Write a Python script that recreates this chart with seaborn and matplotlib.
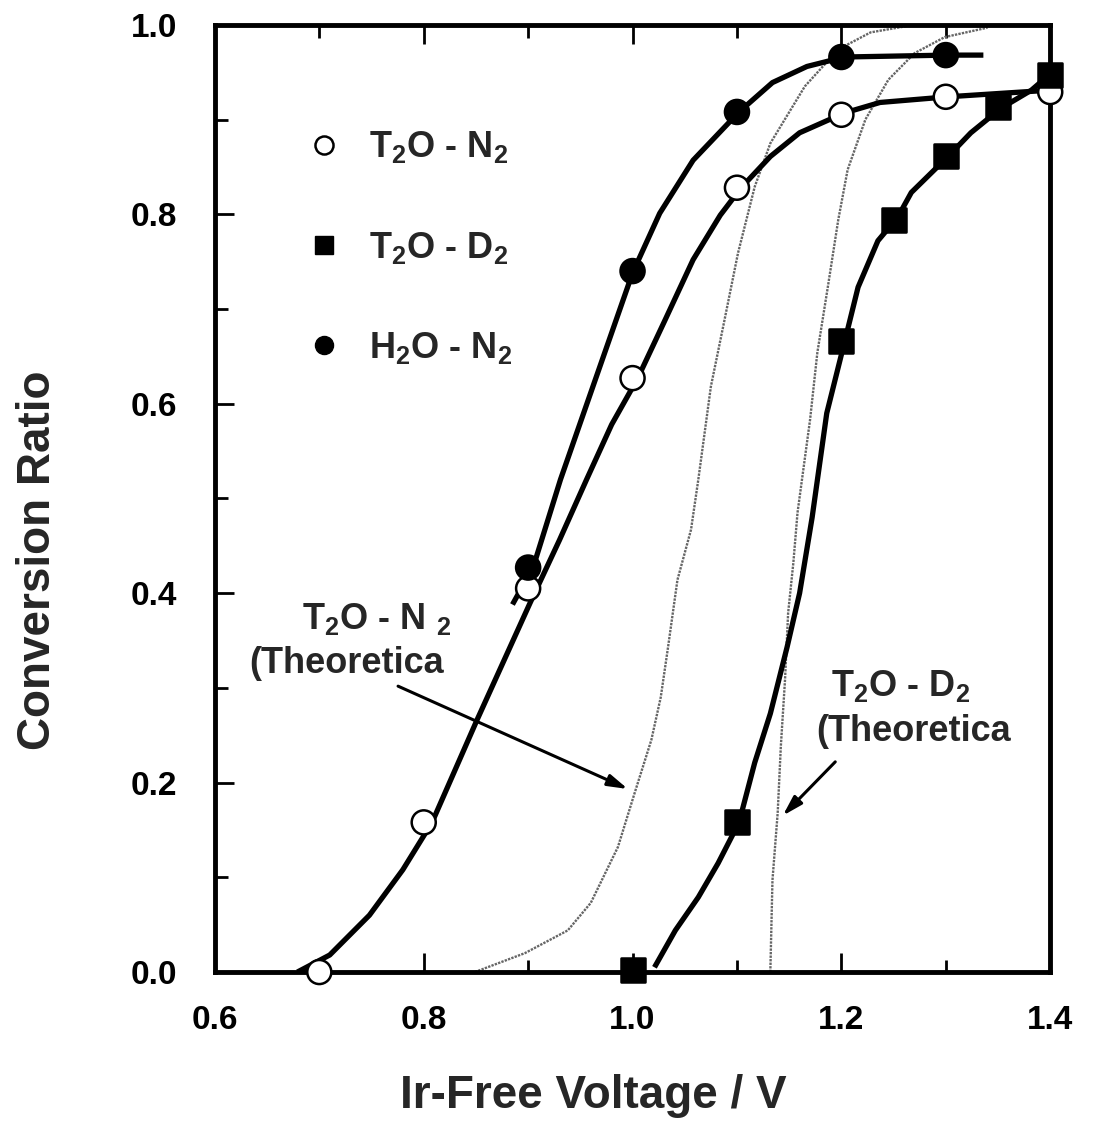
import pandas as pd
import matplotlib.pyplot as plt
import seaborn as sbn
from matplotlib.lines import Line2D
from matplotlib.ticker import MultipleLocator

sbn.set_style('ticks')
plt.rcParams['font.family'] = ['Liberation Sans', 'DejaVu Sans']
plt.rcParams['mathtext.default'] = 'regular'

# measured points
t2o_n2_x = [0.70, 0.80, 0.90, 1.00, 1.10, 1.20, 1.30, 1.40]
t2o_n2_y = [0.0, 0.158, 0.405, 0.627, 0.828, 0.905, 0.924, 0.929]
t2o_d2_x = [1.00, 1.10, 1.20, 1.25, 1.30, 1.35, 1.40]
t2o_d2_y = [0.002, 0.158, 0.666, 0.794, 0.861, 0.913, 0.947]
h2o_n2_x = [0.90, 1.00, 1.10, 1.20, 1.30]
h2o_n2_y = [0.427, 0.740, 0.908, 0.966, 0.968]

# hand-drawn fit curves (traced)
fit_t2o_n2_x = [0.679, 0.710, 0.748, 0.780, 0.808, 0.851, 0.902, 0.930, 0.956, 0.980,
                1.005, 1.031, 1.058, 1.084, 1.104, 1.132, 1.160, 1.203, 1.237, 1.302, 1.400]
fit_t2o_n2_y = [0.0, 0.018, 0.060, 0.108, 0.158, 0.266, 0.390, 0.456, 0.520, 0.578,
                0.627, 0.688, 0.752, 0.799, 0.828, 0.861, 0.886, 0.907, 0.918, 0.924, 0.931]
fit_h2o_n2_x = [0.885, 0.905, 0.931, 0.962, 1.000, 1.026, 1.058, 1.102, 1.134, 1.167,
                1.203, 1.302, 1.336]
fit_h2o_n2_y = [0.388, 0.428, 0.520, 0.618, 0.738, 0.801, 0.857, 0.908, 0.939, 0.956,
                0.966, 0.968, 0.968]
fit_t2o_d2_x = [1.021, 1.041, 1.063, 1.082, 1.102, 1.117, 1.132, 1.148, 1.160, 1.172,
                1.186, 1.203, 1.216, 1.235, 1.254, 1.267, 1.304, 1.324, 1.353, 1.382, 1.401]
fit_t2o_d2_y = [0.005, 0.044, 0.079, 0.115, 0.158, 0.221, 0.273, 0.343, 0.400, 0.480,
                0.590, 0.665, 0.723, 0.772, 0.797, 0.823, 0.863, 0.886, 0.912, 0.931, 0.949]

# theoretical curves (traced)
th_n2_x = [0.849, 0.897, 0.938, 0.960, 0.986, 1.002, 1.018, 1.027, 1.034, 1.043, 1.056,
           1.063, 1.075, 1.088, 1.101, 1.117, 1.132, 1.165, 1.197, 1.228, 1.270]
th_n2_y = [0.0, 0.020, 0.044, 0.073, 0.132, 0.189, 0.245, 0.290, 0.343, 0.414, 0.467,
           0.520, 0.618, 0.688, 0.759, 0.829, 0.875, 0.935, 0.974, 0.992, 1.0]
th_d2_x = [1.132, 1.132, 1.134, 1.139, 1.142, 1.146, 1.149, 1.154, 1.158, 1.170, 1.177,
           1.187, 1.197, 1.206, 1.223, 1.245, 1.270, 1.299, 1.340]
th_d2_y = [0.0, 0.002, 0.097, 0.168, 0.238, 0.308, 0.379, 0.432, 0.485, 0.583, 0.654,
           0.723, 0.794, 0.847, 0.900, 0.942, 0.970, 0.987, 0.997]

series = ['T2O-N2', 'T2O-D2', 'H2O-N2']
pts = pd.DataFrame({
    'V': t2o_n2_x + t2o_d2_x + h2o_n2_x,
    'ratio': t2o_n2_y + t2o_d2_y + h2o_n2_y,
    'series': [series[0]] * len(t2o_n2_x) + [series[1]] * len(t2o_d2_x)
              + [series[2]] * len(h2o_n2_x),
})

fig = plt.figure(figsize=(11.02, 11.27), dpi=100)
ax = fig.add_axes([0.195, 0.1375, 0.758, 0.8405])

# theoretical (thin grey dotted)
for xs, ys in [(th_n2_x, th_n2_y), (th_d2_x, th_d2_y)]:
    sbn.lineplot(x=xs, y=ys, sort=False, estimator=None, ax=ax,
                 color='0.4', linewidth=1.7, linestyle=(0, (1, 0.5)))

# experimental fits (thick black)
for xs, ys in [(fit_t2o_n2_x, fit_t2o_n2_y), (fit_h2o_n2_x, fit_h2o_n2_y),
               (fit_t2o_d2_x, fit_t2o_d2_y)]:
    sbn.lineplot(x=xs, y=ys, sort=False, estimator=None, ax=ax,
                 color='black', linewidth=3.8, solid_capstyle='butt',
                 solid_joinstyle='round')

sbn.scatterplot(data=pts, x='V', y='ratio', hue='series', style='series',
                palette={'T2O-N2': 'white', 'T2O-D2': 'black', 'H2O-N2': 'black'},
                markers={'T2O-N2': 'o', 'T2O-D2': 's', 'H2O-N2': 'o'},
                s=300, edgecolor='black', linewidth=1.8, legend=False,
                clip_on=False, zorder=5, ax=ax)

ax.set_xlim(0.6, 1.4)
ax.set_ylim(0.0, 1.0)
ax.xaxis.set_minor_locator(MultipleLocator(0.1))
ax.yaxis.set_minor_locator(MultipleLocator(0.1))
ax.set_xticks([0.6, 0.8, 1.0, 1.2, 1.4])
ax.set_xticklabels(['0.6', '0.8', '1.0', '1.2', '1.4'])
ax.set_yticks([0.0, 0.2, 0.4, 0.6, 0.8, 1.0])
ax.set_yticklabels(['0.0', '0.2', '0.4', '0.6', '0.8', '1.0'])
ax.tick_params(which='both', direction='in', top=True, right=False, width=2,
               colors='black')
ax.tick_params(which='major', length=14)
ax.tick_params(which='minor', length=9)
ax.tick_params(axis='y', which='major', pad=27)
ax.tick_params(axis='x', which='major', pad=24)
for lbl in ax.get_xticklabels() + ax.get_yticklabels():
    lbl.set_fontweight('bold')
    lbl.set_fontsize(24)
for sp in ax.spines.values():
    sp.set_linewidth(3.5)
    sp.set_color('black')

ax.set_xlabel('Ir-Free Voltage / V', fontsize=33, fontweight='bold')
ax.set_ylabel('Conversion Ratio', fontsize=33, fontweight='bold')
ax.xaxis.set_label_coords(0.453, -0.108)
ax.yaxis.set_label_coords(-0.185, 0.435)

handles = [
    Line2D([], [], marker='o', linestyle='none', markersize=13, markerfacecolor='white',
           markeredgecolor='black', markeredgewidth=1.8),
    Line2D([], [], marker='s', linestyle='none', markersize=13, markerfacecolor='black',
           markeredgecolor='black'),
    Line2D([], [], marker='o', linestyle='none', markersize=13, markerfacecolor='black',
           markeredgecolor='black'),
]
labels = ['T$_2$O - N$_2$', 'T$_2$O - D$_2$', 'H$_2$O - N$_2$']
ax.legend(handles, labels, loc='upper left', bbox_to_anchor=(0.092, 0.905),
          frameon=False, prop={'size': 26, 'weight': 'bold'}, labelspacing=1.78,
          handlelength=1.0, handletextpad=0.75, borderaxespad=0)

txt = dict(fontsize=26, fontweight='bold', va='center', ha='left')
ax.text(0.683, 0.373, 'T$_2$O - N $_2$', **txt)
ax.text(0.633, 0.326, '(Theoretica', **txt)
ax.text(1.190, 0.302, 'T$_2$O - D$_2$', **txt)
ax.text(1.176, 0.254, '(Theoretica', **txt)
arrow = dict(arrowstyle='-|>,head_length=1.2,head_width=0.35', color='black', lw=2.2)
ax.annotate('', xy=(0.998, 0.192), xytext=(0.773, 0.303), arrowprops=arrow)
ax.annotate('', xy=(1.142, 0.163), xytext=(1.196, 0.224), arrowprops=arrow)

fig.savefig('out.png', dpi=100)
